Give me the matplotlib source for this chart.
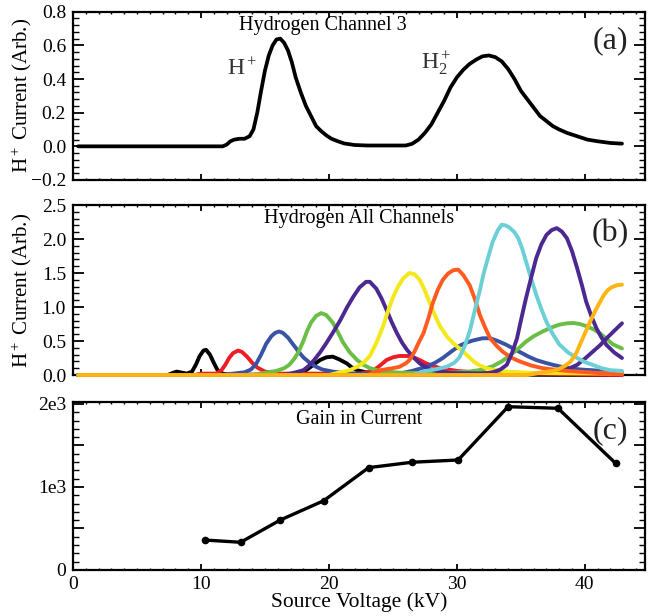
import matplotlib
matplotlib.use("Agg")
import matplotlib.pyplot as plt
from matplotlib.ticker import AutoMinorLocator, FixedLocator, FixedFormatter

plt.rcParams["font.family"] = ["Liberation Serif", "DejaVu Serif"]
plt.rcParams["mathtext.fontset"] = "custom"
plt.rcParams["mathtext.rm"] = "Liberation Serif"
plt.rcParams["mathtext.it"] = "Liberation Serif:italic"

# (a) channel 3 scan
a_kv = [0.4, 11.7, 12.0, 12.3, 12.6, 13.0, 13.4, 13.8, 14.1, 14.4, 14.7, 15.0, 15.3, 15.6, 15.9,
        16.2, 16.5, 16.8, 17.1, 17.4, 17.8, 18.2, 18.6, 19.0, 19.4, 19.8, 20.2, 20.7, 21.2, 22.0,
        23.0, 26.0, 26.5, 27.0, 27.5, 28.0, 28.5, 29.0, 29.5, 30.0, 30.5, 31.0, 31.5, 32.0, 32.5,
        33.0, 33.5, 34.0, 34.5, 35.0, 35.5, 36.0, 36.5, 37.0, 37.5, 38.0, 38.6, 39.4, 40.2, 41.0,
        42.0, 42.9]
a_cur = [0, 0, 0.01, 0.03, 0.04, 0.045, 0.045, 0.06, 0.10, 0.20, 0.33, 0.45, 0.54, 0.60, 0.635,
         0.64, 0.615, 0.57, 0.50, 0.41, 0.32, 0.24, 0.18, 0.12, 0.09, 0.065, 0.045, 0.03, 0.017, 0.008,
         0.005, 0.005, 0.015, 0.04, 0.08, 0.13, 0.20, 0.27, 0.35, 0.41, 0.455, 0.49, 0.515, 0.535, 0.54,
         0.53, 0.505, 0.46, 0.40, 0.33, 0.28, 0.23, 0.18, 0.15, 0.12, 0.10, 0.08, 0.06, 0.04, 0.03,
         0.02, 0.016]

# (b) all channels, (kV, current)
ch_black_kv = [0.4, 7.4, 7.8, 8.1, 8.5, 8.9, 9.3, 9.6, 9.9, 10.2, 10.4, 10.7, 11.0, 11.3, 11.7, 12.2,
               17.0, 17.6, 18.2, 18.8, 19.3, 19.8, 20.3, 20.8, 21.4, 21.8, 22.2, 22.9, 24.0, 42.9]
ch_black = [0, 0, 0.03, 0.05, 0.035, 0.02, 0.05, 0.15, 0.28, 0.36, 0.37, 0.30, 0.18, 0.07, 0.02, 0.005,
            0.005, 0.02, 0.07, 0.15, 0.22, 0.26, 0.27, 0.23, 0.17, 0.11, 0.07, 0.04, 0.01, 0]
ch_red_kv = [0.4, 9.5, 10.0, 11.2, 11.6, 11.9, 12.2, 12.5, 12.9, 13.2, 13.6, 14.0, 14.4, 15.0, 16.0,
             22.5, 23.5, 24.0, 24.5, 25.0, 25.5, 26.1, 26.6, 27.1, 27.6, 28.2, 28.7, 30.0, 32.0, 42.9]
ch_red = [0, 0, 0.02, 0.02, 0.07, 0.15, 0.25, 0.32, 0.36, 0.34, 0.27, 0.18, 0.11, 0.05, 0.02,
          0.02, 0.07, 0.14, 0.22, 0.26, 0.28, 0.28, 0.26, 0.22, 0.17, 0.13, 0.10, 0.06, 0.03, 0]
ch_blue_kv = [0.4, 11.5, 12.5, 13.4, 13.9, 14.3, 14.7, 15.1, 15.5, 15.8, 16.1, 16.4, 16.8, 17.2, 17.6,
              18.0, 18.5, 19.0, 19.5, 20.3, 21.5, 25.5, 26.5, 27.6, 28.3, 28.9, 29.6, 30.2, 30.8, 31.3,
              32.0, 32.6, 33.2, 33.8, 34.4, 34.9, 35.6, 36.2, 36.9, 37.5, 38.2, 38.8, 39.7, 40.6, 41.8, 42.9]
ch_blue = [0, 0, 0.02, 0.04, 0.08, 0.16, 0.30, 0.46, 0.57, 0.62, 0.64, 0.62, 0.55, 0.45, 0.35,
           0.26, 0.18, 0.12, 0.08, 0.05, 0.02, 0.02, 0.06, 0.12, 0.18, 0.25, 0.35, 0.43, 0.48, 0.51,
           0.54, 0.54, 0.50, 0.45, 0.39, 0.34, 0.27, 0.22, 0.18, 0.15, 0.12, 0.10, 0.08, 0.07, 0.05, 0.04]
ch_green_kv = [0.4, 14.0, 14.9, 15.9, 16.5, 16.9, 17.3, 17.6, 18.0, 18.3, 18.6, 19.0, 19.4, 19.8, 20.3,
               20.7, 21.1, 21.6, 22.2, 22.7, 23.2, 24.2, 26.0, 29.0, 31.0, 32.0, 32.8, 33.5, 34.1, 34.8,
               35.4, 36.0, 36.7, 37.4, 38.0, 38.6, 39.1, 39.6, 40.1, 40.7, 41.2, 41.7, 42.2, 42.9]
ch_green = [0, 0, 0.03, 0.06, 0.10, 0.15, 0.24, 0.33, 0.50, 0.65, 0.77, 0.87, 0.91, 0.88, 0.77,
            0.63, 0.48, 0.34, 0.22, 0.15, 0.10, 0.05, 0.03, 0.03, 0.05, 0.08, 0.13, 0.20, 0.28, 0.39,
            0.49, 0.57, 0.64, 0.70, 0.74, 0.76, 0.765, 0.75, 0.72, 0.67, 0.61, 0.53, 0.45, 0.39]
ch_purple_kv = [0.4, 16.5, 17.2, 18.0, 18.4, 18.8, 19.3, 19.8, 20.4, 20.9, 21.4, 21.9, 22.4, 22.9, 23.2,
                23.7, 24.1, 24.5, 24.9, 25.3, 25.7, 26.1, 26.6, 27.1, 27.6, 28.1, 29.5, 33.0, 37.0, 38.0,
                38.7, 39.4, 40.0, 40.6, 41.2, 41.7, 42.3, 42.9]
ch_purple = [0, 0, 0.03, 0.07, 0.13, 0.21, 0.33, 0.47, 0.65, 0.81, 0.99, 1.15, 1.29, 1.37, 1.37,
             1.27, 1.13, 0.96, 0.78, 0.62, 0.48, 0.37, 0.26, 0.17, 0.11, 0.07, 0.03, 0.02, 0.03, 0.05,
             0.09, 0.15, 0.24, 0.34, 0.44, 0.54, 0.65, 0.76]
ch_yellow_kv = [0.4, 20.0, 20.9, 21.6, 22.2, 22.7, 23.2, 23.7, 24.2, 24.6, 25.0, 25.4, 25.8, 26.3, 26.7,
                27.1, 27.5, 27.9, 28.3, 28.7, 29.2, 29.7, 30.2, 30.8, 31.3, 31.8, 32.3, 33.0, 33.9, 36.0, 42.9]
ch_yellow = [0, 0, 0.04, 0.07, 0.12, 0.18, 0.28, 0.47, 0.70, 0.93, 1.14, 1.30, 1.42, 1.50, 1.48,
             1.40, 1.24, 1.05, 0.87, 0.71, 0.57, 0.47, 0.39, 0.29, 0.20, 0.14, 0.10, 0.07, 0.05, 0.03, 0.02]
ch_orange_kv = [0.4, 23.0, 24.0, 25.0, 25.5, 26.0, 26.3, 26.7, 27.0, 27.4, 27.8, 28.1, 28.5, 28.9, 29.3,
                29.7, 30.1, 30.5, 31.0, 31.4, 31.8, 32.2, 32.6, 33.1, 33.6, 34.2, 34.9, 35.8, 36.7, 38.0,
                39.4, 41.0, 42.9]
ch_orange = [0, 0, 0.07, 0.10, 0.12, 0.17, 0.22, 0.35, 0.47, 0.62, 0.85, 1.05, 1.25, 1.40, 1.49,
             1.54, 1.55, 1.47, 1.32, 1.12, 0.88, 0.70, 0.54, 0.43, 0.34, 0.26, 0.20, 0.14, 0.10, 0.07,
             0.05, 0.03, 0.01]
ch_cyan_kv = [0.4, 26.5, 27.6, 28.5, 29.2, 29.8, 30.2, 30.6, 31.0, 31.4, 31.8, 32.1, 32.5, 32.8, 33.2,
              33.5, 33.8, 34.1, 34.5, 34.8, 35.1, 35.4, 35.8, 36.2, 36.6, 37.0, 37.5, 38.0, 38.7, 39.4,
              40.0, 40.6, 41.3, 42.0, 42.9]
ch_cyan = [0, 0, 0.06, 0.09, 0.12, 0.18, 0.26, 0.42, 0.64, 0.95, 1.25, 1.50, 1.77, 1.96, 2.13,
           2.21, 2.20, 2.17, 2.10, 2.01, 1.86, 1.67, 1.42, 1.18, 0.97, 0.78, 0.60, 0.45, 0.33, 0.25,
           0.19, 0.15, 0.10, 0.07, 0.06]
ch_violet_kv = [0.4, 31.5, 32.8, 33.4, 33.9, 34.3, 34.7, 35.0, 35.4, 35.8, 36.2, 36.6, 37.0, 37.4, 37.8,
                38.2, 38.6, 39.0, 39.4, 39.8, 40.1, 40.5, 40.9, 41.3, 41.7, 42.3, 42.9]
ch_violet = [0, 0, 0.04, 0.08, 0.15, 0.32, 0.54, 0.80, 1.13, 1.43, 1.72, 1.92, 2.06, 2.13, 2.16,
             2.11, 2.01, 1.82, 1.57, 1.30, 1.08, 0.87, 0.69, 0.55, 0.44, 0.33, 0.25]
ch_gold_kv = [0.4, 35.5, 36.7, 37.5, 38.0, 38.5, 38.9, 39.3, 39.6, 40.0, 40.4, 40.8, 41.2, 41.5, 41.8,
              42.1, 42.5, 42.9]
ch_gold = [0, 0, 0.04, 0.06, 0.09, 0.14, 0.20, 0.31, 0.44, 0.61, 0.78, 0.94, 1.08, 1.18, 1.25,
           1.29, 1.32, 1.33]

channels = [
    (ch_black_kv, ch_black, "#000000"),
    (ch_red_kv, ch_red, "#ee1c24"),
    (ch_blue_kv, ch_blue, "#3953a4"),
    (ch_green_kv, ch_green, "#6abd45"),
    (ch_purple_kv, ch_purple, "#4b2991"),
    (ch_yellow_kv, ch_yellow, "#f3e81a"),
    (ch_orange_kv, ch_orange, "#ff5a1f"),
    (ch_cyan_kv, ch_cyan, "#6dcfd6"),
    (ch_violet_kv, ch_violet, "#4b2991"),
    (ch_gold_kv, ch_gold, "#ffb511"),
]

# (c) gain
gain_kv = [10.3, 13.1, 16.2, 19.6, 23.1, 26.5, 30.1, 34.0, 37.9, 42.4]
gain = [361, 334, 602, 835, 1233, 1298, 1325, 1967, 1948, 1286]

fig = plt.figure(figsize=(6.55, 6.16), dpi=100)
W = 655.0
H = 616.0
left = 73 / W
width = 572 / W
ax_a = fig.add_axes([left, 1 - 180 / H, width, 168.3 / H])
ax_b = fig.add_axes([left, 1 - 375 / H, width, 170 / H])
ax_c = fig.add_axes([left, 1 - 570 / H, width, 167.7 / H])


def style(ax):
    for sp in ax.spines.values():
        sp.set_linewidth(1.6)
    ax.tick_params(which="both", direction="in", top=True, right=True, labelsize=14, pad=5)
    ax.tick_params(axis="x", which="major", length=4, width=1.3)
    ax.tick_params(axis="x", which="minor", length=1.5, width=1.0)
    ax.tick_params(axis="y", which="major", length=8, width=1.3)
    ax.tick_params(axis="y", which="minor", length=4, width=1.0)
    ax.set_xlim(0, 44.7)
    ax.set_xticks([0, 10, 20, 30, 40])
    ax.xaxis.set_minor_locator(AutoMinorLocator(10))


# panel a
ax_a.plot(a_kv, a_cur, color="black", lw=2.7, solid_capstyle="round", solid_joinstyle="round")
style(ax_a)
ax_a.set_ylim(-0.2, 0.8)
ax_a.set_yticks([-0.2, 0.0, 0.2, 0.4, 0.6, 0.8])
ax_a.yaxis.set_minor_locator(AutoMinorLocator(5))
ax_a.set_xticklabels([])
ax_a.set_ylabel("H$^+$ Current (Arb.)", fontsize=15)
ax_a.yaxis.set_label_coords(-0.068, 0.5)
ax_a.text(19.5, 0.92, "Hydrogen Channel 3", transform=ax_a.get_xaxis_transform(),
          ha="center", va="center", fontsize=14.5)
ax_a.text(0.94, 0.83, "(a)", transform=ax_a.transAxes, ha="center", va="center", fontsize=23, color="#222222")
ax_a.text(13.2, 0.46, "H$^+$", ha="center", va="center", fontsize=17, color="#333333")
ax_a.text(28.4, 0.49, "H$_2^+$", ha="center", va="center", fontsize=17, color="#333333")

# panel b
for kv, cur, col in channels:
    ax_b.plot(kv, cur, color=col, lw=2.8, solid_capstyle="round", solid_joinstyle="round",
              clip_on=False, zorder=3)
style(ax_b)
ax_b.set_ylim(0, 2.5)
ax_b.set_yticks([0.0, 0.5, 1.0, 1.5, 2.0, 2.5])
ax_b.yaxis.set_minor_locator(AutoMinorLocator(5))
ax_b.set_xticklabels([])
ax_b.set_ylabel("H$^+$ Current (Arb.)", fontsize=15)
ax_b.yaxis.set_label_coords(-0.068, 0.5)
ax_b.text(0.5, 0.92, "Hydrogen All Channels", transform=ax_b.transAxes,
          ha="center", va="center", fontsize=14.5)
ax_b.text(0.94, 0.83, "(b)", transform=ax_b.transAxes, ha="center", va="center", fontsize=23, color="#222222")

# panel c
ax_c.plot(gain_kv, gain, color="black", lw=2.4, marker="o", ms=4.5)
style(ax_c)
ax_c.set_ylim(0, 2020)
ax_c.yaxis.set_major_locator(FixedLocator([0, 500, 1000, 1500, 2000]))
ax_c.yaxis.set_major_formatter(FixedFormatter(["0", "", "1e3", "", "2e3"]))
ax_c.yaxis.set_minor_locator(AutoMinorLocator(5))
ax_c.set_xticklabels(["0", "10", "20", "30", "40"])
ax_c.tick_params(axis="x", labelsize=14, pad=4)
ax_c.set_xlabel("Source Voltage (kV)", fontsize=15.5, labelpad=0)
ax_c.text(0.5, 0.9, "Gain in Current", transform=ax_c.transAxes,
          ha="center", va="center", fontsize=14.5)
ax_c.text(0.94, 0.83, "(c)", transform=ax_c.transAxes, ha="center", va="center", fontsize=23, color="#222222")

fig.savefig("out.png", dpi=100)
